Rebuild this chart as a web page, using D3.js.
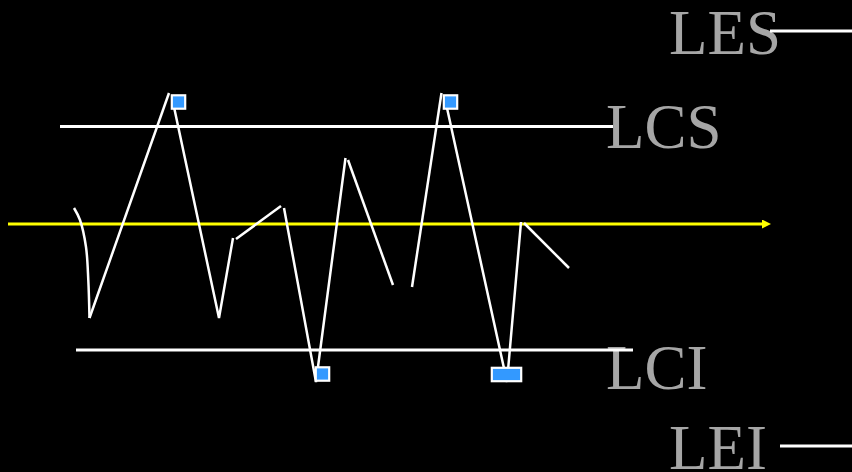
<!DOCTYPE html>
<html>
<head>
<meta charset="utf-8">
<script src="https://cdn.jsdelivr.net/npm/d3@7"></script>
<style>
  html, body { margin: 0; padding: 0; background: #000; }
  svg { display: block; }
</style>
</head>
<body>
<svg id="chart" width="852" height="472"></svg>
<script>
// Process trace: time (t) vs deviation from the centre line (v).
// Each run is drawn as its own stroke.
const curvedRun = [[7.4, 1.6], [8.0, 0.4], [8.6, -2.3], [8.83, -5.6], [8.95, -9.4]];
const runs = [
  [[8.95, -9.4], [16.9, 13.1]],
  [[17.4, 11.7], [21.9, -9.4], [23.3, -1.4]],
  [[23.6, -1.5], [28.1, 1.8]],
  [[28.4, 1.6], [31.6, -15.8], [34.55, 6.6]],
  [[34.8, 6.4], [39.3, -6.1]],
  [[41.2, -6.3], [44.15, 13.1]],
  [[44.7, 11.6], [50.7, -15.8], [52.1, 0.2]],
  [[52.4, 0.1], [56.9, -4.4]]
];

// Points outside the control limits
const outT = [17.85, 32.25, 45.05, 49.85, 51.45];
const outV = [12.2, -15.0, 12.2, -15.05, -15.05];

// Limits
const limitNames  = ["LES", "LCS", "LCI", "LEI"];
const limitValues = [19.3, 9.75, -12.6, -22.2];
const centerValue = 0;

const W = 852, H = 472;
const x = d3.scaleLinear().domain([0, 85.2]).range([0, W]);
const y = d3.scaleLinear().domain([-24.8, 22.4]).range([H, 0]);

const svg = d3.select("#chart");
svg.append("rect").attr("width", W).attr("height", H).attr("fill", "#000");

// Layout of each limit line (time span) and its label
const limitLayout = {
  LES: { t0: 77.0, t1: 85.2, lx: 669, dy: 23 },
  LCS: { t0: 6.0,  t1: 61.3, lx: 606, dy: 21 },
  LCI: { t0: 7.6,  t1: 63.3, lx: 606, dy: 39 },
  LEI: { t0: 78.0, t1: 85.2, lx: 669, dy: 23 }
};

const limits = limitNames.map((n, i) => ({ name: n, v: limitValues[i], ...limitLayout[n] }));

// Labels first, lines over them
svg.append("g").selectAll("text").data(limits).join("text")
  .attr("x", d => d.lx)
  .attr("y", d => y(d.v) + d.dy)
  .attr("fill", "#a6a6a6")
  .attr("font-family", "'Liberation Serif', 'Times New Roman', serif")
  .attr("font-size", 63)
  .text(d => d.name);

svg.append("g").selectAll("line").data(limits).join("line")
  .attr("x1", d => x(d.t0)).attr("x2", d => x(d.t1))
  .attr("y1", d => y(d.v)).attr("y2", d => y(d.v))
  .attr("stroke", "#fff").attr("stroke-width", 3);

// Centre line with arrow
const defs = svg.append("defs");
defs.append("marker")
  .attr("id", "arrow")
  .attr("viewBox", "0 0 10 10")
  .attr("refX", 0).attr("refY", 5)
  .attr("markerUnits", "userSpaceOnUse")
  .attr("markerWidth", 11).attr("markerHeight", 9)
  .attr("orient", "auto")
  .append("path").attr("d", "M0,0 L10,5 L0,10 Z").attr("fill", "#ffff00");

svg.append("line")
  .attr("x1", x(0.8)).attr("x2", x(76.2))
  .attr("y1", y(centerValue)).attr("y2", y(centerValue))
  .attr("stroke", "#ffff00").attr("stroke-width", 3)
  .attr("marker-end", "url(#arrow)");

// Trace
const lineStraight = d3.line().x(d => x(d[0])).y(d => y(d[1]));
const lineCurved = d3.line().x(d => x(d[0])).y(d => y(d[1])).curve(d3.curveCatmullRom);

svg.append("path")
  .attr("d", lineCurved(curvedRun))
  .attr("fill", "none").attr("stroke", "#fff").attr("stroke-width", 2.5);

svg.append("g").selectAll("path").data(runs).join("path")
  .attr("d", lineStraight)
  .attr("fill", "none").attr("stroke", "#fff").attr("stroke-width", 2.5);

// Out-of-control markers; adjacent points at the same level share one box
const S = 15.6, B = 2.2;
const pts = outT.map((t, i) => ({ t, v: outV[i] })).sort((a, b) => a.t - b.t);
const boxes = [];
pts.forEach(p => {
  const last = boxes[boxes.length - 1];
  if (last && Math.abs(y(last.v) - y(p.v)) < 2 && x(p.t) - x(last.t1) <= S + 1) {
    last.t1 = p.t;
  } else {
    boxes.push({ t0: p.t, t1: p.t, v: p.v });
  }
});

const mk = svg.append("g").selectAll("g").data(boxes).join("g");
mk.append("rect")
  .attr("x", d => x(d.t0) - S / 2).attr("y", d => y(d.v) - S / 2)
  .attr("width", d => x(d.t1) - x(d.t0) + S).attr("height", S)
  .attr("fill", "#fff");
mk.append("rect")
  .attr("x", d => x(d.t0) - S / 2 + B).attr("y", d => y(d.v) - S / 2 + B)
  .attr("width", d => x(d.t1) - x(d.t0) + S - 2 * B).attr("height", S - 2 * B)
  .attr("fill", "#3399ff");
</script>
</body>
</html>
